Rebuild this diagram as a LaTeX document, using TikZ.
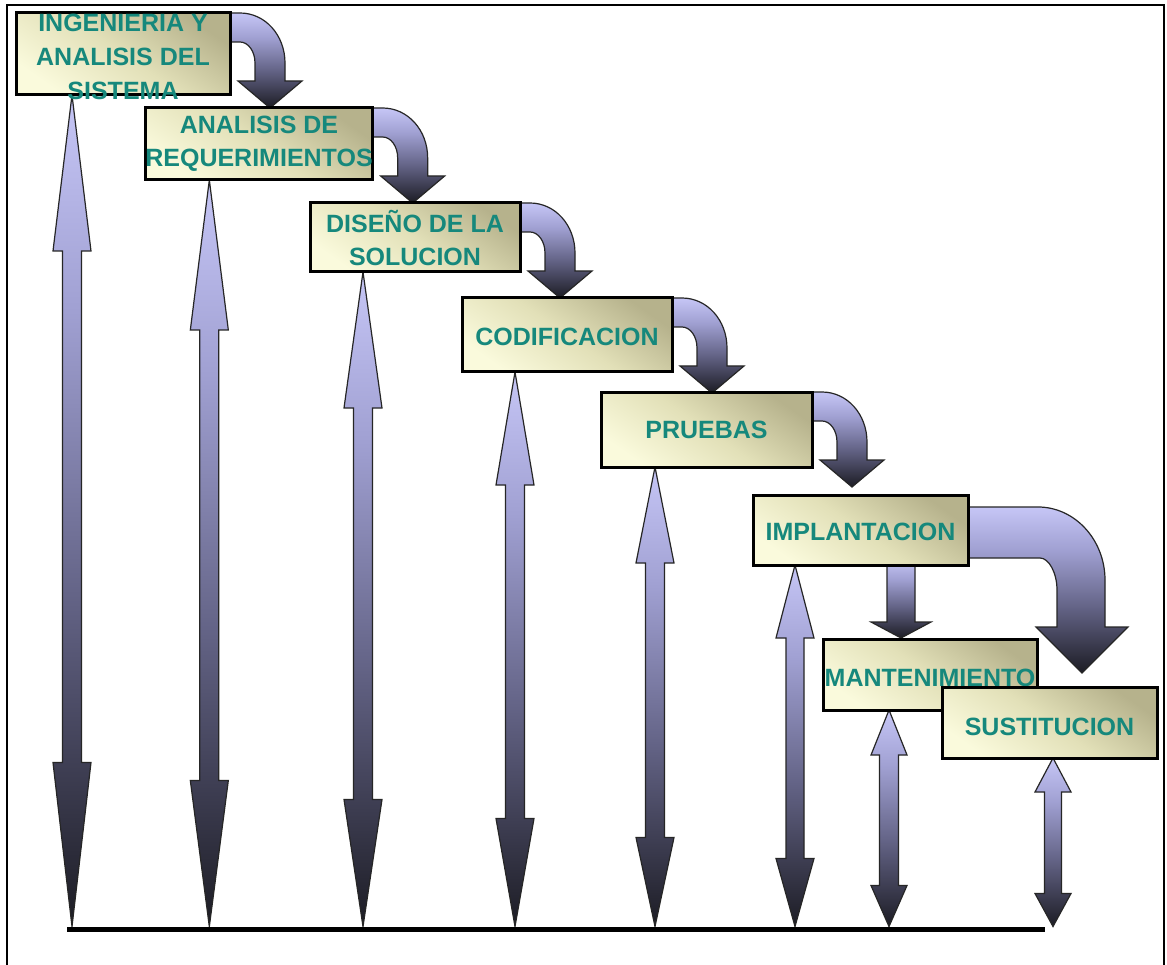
\documentclass[tikz,border=0pt]{standalone}
\usepackage{fontspec}
\setmainfont{Liberation Sans}
\usetikzlibrary{calc}

\pgfdeclarelayer{paper}
\pgfdeclarelayer{arrows}
\pgfsetlayers{paper,arrows,main}

\definecolor{stagetext}{RGB}{22,136,124}
\definecolor{boxlight}{RGB}{250,250,220}
\definecolor{boxmid}{RGB}{226,224,184}
\definecolor{boxdark}{RGB}{182,178,140}
\definecolor{arrlight}{RGB}{198,198,246}
\definecolor{arrmidA}{RGB}{160,160,210}
\definecolor{arrmidB}{RGB}{100,100,135}
\definecolor{arrdark}{RGB}{28,28,36}

% lavender at the top fading to near black at the bottom
\pgfdeclareverticalshading{fatarrow}{100bp}{%
  color(0bp)=(arrdark); color(25bp)=(arrdark);
  color(45bp)=(arrmidB); color(62bp)=(arrmidA);
  color(75bp)=(arrlight); color(100bp)=(arrlight)}

\tikzset{
  stagelabel/.style={inner sep=0pt, outer sep=0pt, text=stagetext, align=center,
    font=\bfseries\fontsize{25}{33}\selectfont},
  stagebox/.style={stagelabel, draw=black, line width=3pt,
    top color=boxdark, bottom color=boxlight, middle color=boxmid,
    shading angle=-35},
  fatshade/.style={draw=black!85, line width=1.2pt, shading=fatarrow,
    line join=miter},
}

% double-headed vertical arrow from a box down to the floor line
% #1 top tip, #2 point on the floor, #3/#4 top/bottom head length,
% #5 head half width, #6 shaft half width
\newcommand\fatlink[6]{%
  \path[fatshade] let \p1=#1, \p2=#2 in
    (\x1,\y1) -- ({\x1+#5pt},{\y1-#3pt}) -- ({\x1+#6pt},{\y1-#3pt})
    -- ({\x1+#6pt},{\y2+#4pt}) -- ({\x1+#5pt},{\y2+#4pt}) -- (\x1,\y2)
    -- ({\x1-#5pt},{\y2+#4pt}) -- ({\x1-#6pt},{\y2+#4pt})
    -- ({\x1-#6pt},{\y1-#3pt}) -- ({\x1-#5pt},{\y1-#3pt}) -- cycle;}

% bent arrow leaving the right side of a box and dropping onto the next one
\newcommand\bendlink[1]{%
  \begin{scope}[shift={(#1.north east)}]
    \path[fatshade] (-6,0) -- (10,0) .. controls (35,0) and (55,22) .. (55,50)
      -- (55,68) -- (72,68) -- (40,95) -- (8,68) -- (25,68) -- (25,50)
      .. controls (25,38) and (18,29) .. (10,29) -- (-6,29) -- cycle;
  \end{scope}}

\begin{document}
\begin{tikzpicture}[x=1pt,y=-1pt]
  \useasboundingbox (0,0) rectangle (1167,965);
  \begin{pgfonlayer}{paper}
    \fill[white] (0,0) rectangle (1167,965);
  \end{pgfonlayer}

  % outer frame
  \draw[line width=2.4pt] (7,965) -- (7,5) -- (1164,5) -- (1164,965);

  % stages
  \node[stagebox, minimum width=214pt, minimum height=82pt] (b1) at (123,54) {};
  \node[stagelabel, font=\bfseries\fontsize{25}{34}\selectfont] (b1t)
    at ($(b1.center)+(0,3)$) {INGENIERIA Y\\ANALISIS DEL\\SISTEMA};
  \node[stagebox, minimum width=222pt, minimum height=72pt] (b2) at (259,144)
    {ANALISIS DE\\REQUERIMIENTOS};
  \node[stagebox, minimum width=210pt, minimum height=69pt] (b3) at (415,237.5)
    {DISEÑO DE LA\\SOLUCION};
  \node[stagebox, minimum width=210pt, minimum height=74pt, text height=22pt] (b4) at (567,335)
    {CODIFICACION};
  \node[stagebox, minimum width=211pt, minimum height=75pt] (b5) at (706.5,429.5)
    {PRUEBAS};
  \node[stagebox, minimum width=215pt, minimum height=70pt, text height=22pt] (b6) at (860.5,530)
    {IMPLANTACION};
  \node[stagebox, minimum width=214pt, minimum height=71pt, text height=25pt] (b7) at (930,674.5)
    {MANTENIMIENTO};
  \node[stagebox, minimum width=215pt, minimum height=71pt, text height=27pt] (b8) at (1049.5,722.5)
    {SUSTITUCION};

  % floor line
  \coordinate (floor) at (0,926.5);
  \coordinate (floorL) at (67,929);
  \coordinate (floorR) at (1045,929);
  \draw[line width=5pt] (floorL) -- (floorR);

  \begin{pgfonlayer}{arrows}
    % links between each stage and the floor
    \fatlink{($(b1.south west)+(56,0)$)}{(floor)}{156}{164}{19}{9.5}
    \fatlink{($(b2.south west)+(64,0)$)}{(floor)}{150}{146}{19}{9.5}
    \fatlink{($(b3.south west)+(53,0)$)}{(floor)}{136}{127}{19}{9.5}
    \fatlink{($(b4.south west)+(53,0)$)}{(floor)}{113}{108}{19}{9.5}
    \fatlink{($(b5.south west)+(54,0)$)}{(floor)}{96}{89}{19}{9.5}
    \fatlink{($(b6.south west)+(42,0)$)}{(floor)}{73}{68}{19}{9}
    \fatlink{($(b7.south west)+(66,0)$)}{(floor)}{45}{41}{18}{9.5}
    \fatlink{($(b8.south west)+(111,0)$)}{(floor)}{34}{33}{18}{8.5}

    % cascade from one stage to the next
    \bendlink{b1}
    \bendlink{b2}
    \bendlink{b3}
    \bendlink{b4}
    \bendlink{b5}

    % from IMPLANTACION to SUSTITUCION
    \begin{scope}[shift={(b6.north east)}]
      \path[fatshade] (-6,12) -- (70,12) .. controls (107,12) and (137,45) .. (137,85)
        -- (137,132) -- (160,132) -- (114,178) -- (68,132) -- (89,132) -- (89,95)
        .. controls (89,78) and (81,63) .. (72,63) -- (-6,63) -- cycle;
    \end{scope}

    % from IMPLANTACION down to MANTENIMIENTO
    \begin{scope}[shift={($(b7.north west)+(78,0)$)}]
      \path[fatshade] (-14,-80) -- (14,-80) -- (14,-17) -- (30,-17) -- (0,-1)
        -- (-30,-17) -- (-14,-17) -- cycle;
    \end{scope}
  \end{pgfonlayer}
\end{tikzpicture}
\end{document}
